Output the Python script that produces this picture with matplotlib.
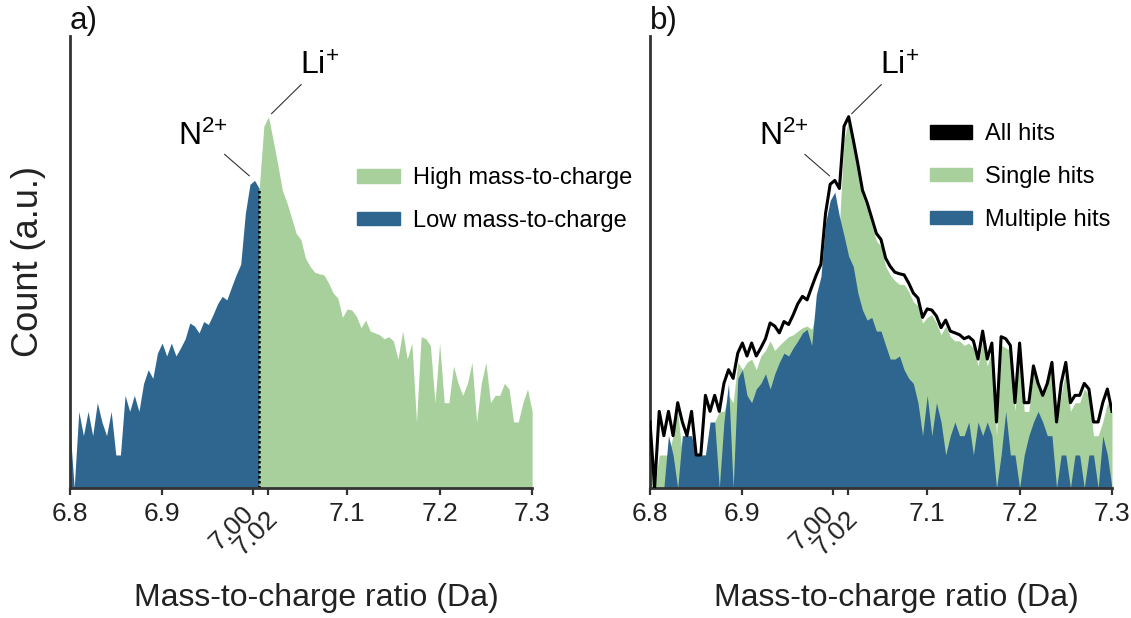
import numpy as np
import matplotlib
matplotlib.use("Agg")
import matplotlib.pyplot as plt
import matplotlib.transforms as mtransforms
from matplotlib.patches import Patch

# Mass-to-charge bins (Da), 0.005 Da wide
mz = np.round(np.arange(6.8, 7.3 + 1e-9, 0.005), 3)

# Counts per bin, all hits
all_hits = [4, 1, 5, 3, 5, 3, 6, 4, 3, 5,
            2, 2, 7, 5, 7, 5, 9, 12, 10, 17,
            21, 16, 21, 16, 19, 23, 32, 30, 26, 33,
            31, 38, 48, 56, 52, 68, 88, 110, 320, 590,
            640, 540, 2000, 2440, 1500, 900, 520, 400, 290, 210,
            185, 125, 105, 93, 90, 88, 74, 60, 54, 36,
            43, 42, 37, 29, 34, 27, 26, 25, 23, 24,
            22, 15, 27, 15, 21, 4, 24, 23, 20, 6,
            21, 6, 6, 13, 9, 7, 9, 14, 4, 9,
            14, 6, 7, 7, 9, 8, 4, 4, 6, 8, 5]

# Counts per bin, single hits
single_hits = [3, 1, 2, 2, 2, 3, 5, 2, 2, 2,
               2, 2, 2, 3, 4, 5, 5, 7, 6, 14,
               12, 14, 15, 12, 16, 18, 22, 18, 20, 22,
               24, 25, 27, 29, 30, 28, 40, 40, 60, 90,
               150, 250, 1500, 2300, 1400, 800, 460, 350, 250, 180,
               160, 105, 88, 78, 72, 72, 62, 50, 46, 32,
               36, 38, 32, 25, 30, 24, 22, 22, 20, 21,
               19, 13, 22, 13, 18, 3, 20, 19, 18, 5,
               18, 5, 5, 12, 8, 7, 9, 13, 4, 7,
               12, 5, 6, 6, 8, 7, 3, 3, 4, 6, 5]

# Counts per bin, multiple hits
multiple_hits = [1, 1, 1, 1, 3, 2, 1, 3, 3, 3,
                 2, 2, 2, 4, 4, 1, 4, 9, 1, 10,
                 12, 7, 6, 8, 9, 11, 8, 11, 14, 17,
                 16, 19, 22, 26, 28, 20, 58, 85, 260, 420,
                 500, 300, 200, 130, 105, 60, 42, 34, 36, 27,
                 27, 20, 15, 15, 16, 12, 10, 9, 6, 3,
                 7, 3, 6, 4, 2, 3, 4, 3, 3, 4,
                 2, 4, 3, 4, 3, 1, 2, 5, 2, 2,
                 1, 2, 3, 4, 5, 4, 3, 3, 1, 2,
                 2, 1, 2, 2, 1, 2, 2, 1, 3, 2, 1]

tick_values = [6.8, 6.9, 6.998, 7.014, 7.1, 7.2, 7.3]
tick_labels = ["6.8", "6.9", "7.00", "7.02", "7.1", "7.2", "7.3"]
split_mz = 7.005      # boundary between low and high mass-to-charge
n_peak_mz = 7.0       # N2+ peak bin
li_peak_mz = 7.015    # Li+ peak bin

GREEN = "#a8d09c"
BLUE = "#2e6690"
DARK = "#333333"


def preparar_eje(ax, panel):
    ax.set_yscale("log")
    ax.set_xlim(6.8, 7.3)
    ax.set_ylim(1, 13300)
    ax.set_yticks([])
    ax.minorticks_off()
    ax.set_xticks(tick_values)
    ax.set_xticklabels(tick_labels)
    ax.tick_params(axis="x", length=5, width=1.6, color=DARK,
                   labelsize=19, labelcolor="#222222", pad=5)
    # etiquetas giradas de los picos, algo desplazadas para que no se pisen
    fig = ax.figure
    desplazamientos = [(-2.2, -5.8), (4.7, -9.0)]
    for lbl, (dx, dy) in zip(ax.get_xticklabels()[2:4], desplazamientos):
        lbl.set_rotation(45)
        lbl.set_ha("right")
        lbl.set_va("center")
        lbl.set_rotation_mode("anchor")
        off = mtransforms.ScaledTranslation(dx / 72, dy / 72, fig.dpi_scale_trans)
        lbl.set_transform(lbl.get_transform() + off)
    for side in ["top", "right"]:
        ax.spines[side].set_visible(False)
    for side in ["left", "bottom"]:
        ax.spines[side].set_color(DARK)
        ax.spines[side].set_linewidth(2)
    ax.set_xlabel("Mass-to-charge ratio (Da)", fontsize=23, color="#222222")
    ax.xaxis.set_label_coords(0.533, -0.21)
    ax.text(0.0, 1.0, panel, transform=ax.transAxes, fontsize=22.5,
            ha="left", va="bottom", color="#111111")


def anotar_picos(ax, y_n, y_li):
    ax.annotate(r"N$^{2{+}}$", xy=(n_peak_mz, y_n), xytext=(0.289, 0.779),
                textcoords="axes fraction", fontsize=23, ha="center", va="center",
                arrowprops=dict(arrowstyle="-", lw=0.8, color="#333333",
                                shrinkA=0, shrinkB=5))
    ax.annotate(r"Li$^{+}$", xy=(li_peak_mz, y_li), xytext=(0.540, 0.932),
                textcoords="axes fraction", fontsize=23, ha="center", va="center",
                arrowprops=dict(arrowstyle="-", lw=0.8, color="#333333",
                                shrinkA=0, shrinkB=3))


def main():
    plt.rcParams["font.family"] = ["Liberation Sans", "DejaVu Sans"]
    plt.rcParams["mathtext.fontset"] = "custom"
    plt.rcParams["mathtext.rm"] = "Liberation Sans"
    plt.rcParams["mathtext.it"] = "Liberation Sans"

    total = np.array(all_hits, dtype=float)
    single = np.array(single_hits, dtype=float)
    multi = np.array(multiple_hits, dtype=float)
    i_split = int(np.argmin(np.abs(mz - split_mz)))
    i_n = int(np.argmin(np.abs(mz - n_peak_mz)))
    i_li = int(np.argmin(np.abs(mz - li_peak_mz)))

    fig = plt.figure(figsize=(11.31, 6.18), dpi=100)
    ax1 = fig.add_axes([0.0615, 0.2104, 0.409, 0.7314])
    ax2 = fig.add_axes([0.5747, 0.2104, 0.4085, 0.7314])

    leyenda = dict(loc="center left", frameon=False, fontsize=17,
                   handlelength=1.8, handleheight=0.5, handletextpad=0.55,
                   labelspacing=0.88, borderpad=0, borderaxespad=0)

    # a) todos los eventos, divididos en baja / alta masa-carga
    ax1.fill_between(mz[:i_split + 1], 1, total[:i_split + 1], color=BLUE, lw=0)
    ax1.fill_between(mz[i_split:], 1, total[i_split:], color=GREEN, lw=0)
    ax1.plot([mz[i_split], mz[i_split]], [1, total[i_split]], color="black",
             lw=1.8, ls=(0, (1, 1)))
    preparar_eje(ax1, "a)")
    ax1.set_ylabel("Count (a.u.)", fontsize=26, color="#222222", labelpad=17)
    anotar_picos(ax1, total[i_n], total[i_li])
    ax1.legend(handles=[Patch(color=GREEN, label="High mass-to-charge"),
                        Patch(color=BLUE, label="Low mass-to-charge")],
               bbox_to_anchor=(0.622, 0.638), **leyenda)

    # b) eventos simples y multiples
    ax2.fill_between(mz, 1, single, color=GREEN, lw=0, zorder=1)
    ax2.fill_between(mz, 1, multi, color=BLUE, lw=0, zorder=2)
    ax2.plot(mz, total, color="black", lw=2.2, zorder=3)
    preparar_eje(ax2, "b)")
    anotar_picos(ax2, total[i_n], total[i_li])
    ax2.legend(handles=[Patch(color="black", label="All hits"),
                        Patch(color=GREEN, label="Single hits"),
                        Patch(color=BLUE, label="Multiple hits")],
               bbox_to_anchor=(0.606, 0.688), **leyenda)

    fig.savefig("out.png", dpi=100)
    print("Figura guardada en out.png")


if __name__ == "__main__":
    main()
